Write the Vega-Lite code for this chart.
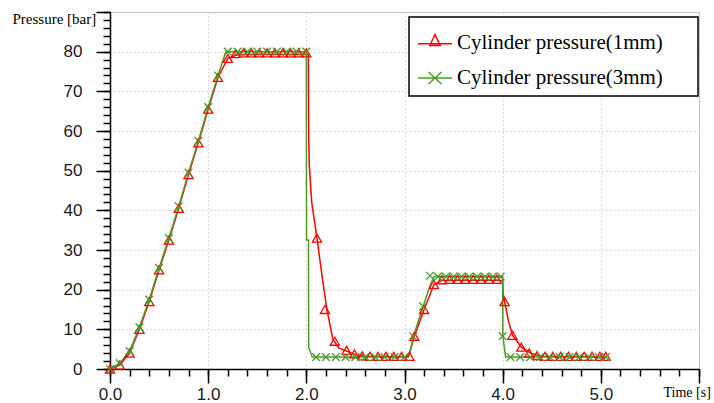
{
  "$schema": "https://vega.github.io/schema/vega-lite/v6.json",
  "width": 589,
  "height": 357,
  "autosize": {"type": "none"},
  "padding": {"left": 110, "top": 12, "right": 15, "bottom": 34},
  "background": "white",
  "config": {
    "view": {"stroke": "#c8c8c8", "strokeWidth": 1},
    "axis": {
      "labelFont": "Liberation Sans",
      "labelFontSize": 17,
      "labelColor": "#1a1a1a",
      "labelFlush": false,
      "labelOverlap": false,
      "tickColor": "black",
      "tickWidth": 1.5,
      "domainColor": "black",
      "domainWidth": 1.5,
      "titleFont": "Liberation Serif",
      "titleFontWeight": "normal",
      "titleColor": "black"
    }
  },
  "datasets": {
    "lines": [
      {"s": "Cylinder pressure(1mm)", "t": 0, "p": 0},
      {"s": "Cylinder pressure(1mm)", "t": 0.1, "p": 1},
      {"s": "Cylinder pressure(1mm)", "t": 0.2, "p": 4},
      {"s": "Cylinder pressure(1mm)", "t": 0.3, "p": 10},
      {"s": "Cylinder pressure(1mm)", "t": 0.4, "p": 17},
      {"s": "Cylinder pressure(1mm)", "t": 0.5, "p": 25},
      {"s": "Cylinder pressure(1mm)", "t": 0.6, "p": 32.5},
      {"s": "Cylinder pressure(1mm)", "t": 0.7, "p": 40.5},
      {"s": "Cylinder pressure(1mm)", "t": 0.8, "p": 49},
      {"s": "Cylinder pressure(1mm)", "t": 0.9, "p": 57},
      {"s": "Cylinder pressure(1mm)", "t": 1.0, "p": 65.5},
      {"s": "Cylinder pressure(1mm)", "t": 1.1, "p": 73.5},
      {"s": "Cylinder pressure(1mm)", "t": 1.2, "p": 78.3},
      {"s": "Cylinder pressure(1mm)", "t": 1.3, "p": 79.2},
      {"s": "Cylinder pressure(1mm)", "t": 1.4, "p": 79.3},
      {"s": "Cylinder pressure(1mm)", "t": 2.02, "p": 79.3},
      {"s": "Cylinder pressure(1mm)", "t": 2.024, "p": 58.6},
      {"s": "Cylinder pressure(1mm)", "t": 2.03, "p": 51.4},
      {"s": "Cylinder pressure(1mm)", "t": 2.055, "p": 42},
      {"s": "Cylinder pressure(1mm)", "t": 2.108, "p": 33},
      {"s": "Cylinder pressure(1mm)", "t": 2.17, "p": 21.7},
      {"s": "Cylinder pressure(1mm)", "t": 2.21, "p": 14.9},
      {"s": "Cylinder pressure(1mm)", "t": 2.27, "p": 7.5},
      {"s": "Cylinder pressure(1mm)", "t": 2.33, "p": 5.3},
      {"s": "Cylinder pressure(1mm)", "t": 2.41, "p": 4.5},
      {"s": "Cylinder pressure(1mm)", "t": 2.5, "p": 3.6},
      {"s": "Cylinder pressure(1mm)", "t": 2.6, "p": 3.2},
      {"s": "Cylinder pressure(1mm)", "t": 3.04, "p": 3.1},
      {"s": "Cylinder pressure(1mm)", "t": 3.1, "p": 8.2},
      {"s": "Cylinder pressure(1mm)", "t": 3.2, "p": 15},
      {"s": "Cylinder pressure(1mm)", "t": 3.3, "p": 21.3},
      {"s": "Cylinder pressure(1mm)", "t": 3.38, "p": 22.3},
      {"s": "Cylinder pressure(1mm)", "t": 4.0, "p": 22.3},
      {"s": "Cylinder pressure(1mm)", "t": 4.005, "p": 19},
      {"s": "Cylinder pressure(1mm)", "t": 4.02, "p": 17},
      {"s": "Cylinder pressure(1mm)", "t": 4.06, "p": 12},
      {"s": "Cylinder pressure(1mm)", "t": 4.1, "p": 8.5},
      {"s": "Cylinder pressure(1mm)", "t": 4.19, "p": 5.5},
      {"s": "Cylinder pressure(1mm)", "t": 4.3, "p": 3.8},
      {"s": "Cylinder pressure(1mm)", "t": 4.4, "p": 3.2},
      {"s": "Cylinder pressure(1mm)", "t": 5.05, "p": 3.1},
      {"s": "Cylinder pressure(3mm)", "t": 0, "p": 0},
      {"s": "Cylinder pressure(3mm)", "t": 0.1, "p": 1.5},
      {"s": "Cylinder pressure(3mm)", "t": 0.2, "p": 4.5},
      {"s": "Cylinder pressure(3mm)", "t": 0.3, "p": 10.5},
      {"s": "Cylinder pressure(3mm)", "t": 0.4, "p": 17.5},
      {"s": "Cylinder pressure(3mm)", "t": 0.5, "p": 25.5},
      {"s": "Cylinder pressure(3mm)", "t": 0.6, "p": 33},
      {"s": "Cylinder pressure(3mm)", "t": 0.7, "p": 41},
      {"s": "Cylinder pressure(3mm)", "t": 0.8, "p": 49.5},
      {"s": "Cylinder pressure(3mm)", "t": 0.9, "p": 57.5},
      {"s": "Cylinder pressure(3mm)", "t": 1.0, "p": 66},
      {"s": "Cylinder pressure(3mm)", "t": 1.1, "p": 74},
      {"s": "Cylinder pressure(3mm)", "t": 1.18, "p": 80},
      {"s": "Cylinder pressure(3mm)", "t": 2.0, "p": 80},
      {"s": "Cylinder pressure(3mm)", "t": 2.002, "p": 32.5},
      {"s": "Cylinder pressure(3mm)", "t": 2.022, "p": 32.5},
      {"s": "Cylinder pressure(3mm)", "t": 2.024, "p": 5.5},
      {"s": "Cylinder pressure(3mm)", "t": 2.06, "p": 3},
      {"s": "Cylinder pressure(3mm)", "t": 3.0, "p": 3},
      {"s": "Cylinder pressure(3mm)", "t": 3.05, "p": 3.6},
      {"s": "Cylinder pressure(3mm)", "t": 3.09, "p": 8.2},
      {"s": "Cylinder pressure(3mm)", "t": 3.19, "p": 15.8},
      {"s": "Cylinder pressure(3mm)", "t": 3.26, "p": 21},
      {"s": "Cylinder pressure(3mm)", "t": 3.3, "p": 23.3},
      {"s": "Cylinder pressure(3mm)", "t": 4.0, "p": 23.3},
      {"s": "Cylinder pressure(3mm)", "t": 4.002, "p": 8.3},
      {"s": "Cylinder pressure(3mm)", "t": 4.03, "p": 3},
      {"s": "Cylinder pressure(3mm)", "t": 5.05, "p": 3}
    ],
    "markers1": [
      {"t": 0, "p": 0}, {"t": 0.1, "p": 1}, {"t": 0.2, "p": 4}, {"t": 0.3, "p": 10},
      {"t": 0.4, "p": 17}, {"t": 0.5, "p": 25}, {"t": 0.6, "p": 32.5}, {"t": 0.7, "p": 40.5},
      {"t": 0.8, "p": 49}, {"t": 0.9, "p": 57}, {"t": 1.0, "p": 65.5}, {"t": 1.1, "p": 73.5},
      {"t": 1.2, "p": 78.3}, {"t": 1.28, "p": 79.5}, {"t": 1.36, "p": 79.7}, {"t": 1.44, "p": 79.7},
      {"t": 1.52, "p": 79.7}, {"t": 1.6, "p": 79.7}, {"t": 1.68, "p": 79.7}, {"t": 1.76, "p": 79.7},
      {"t": 1.84, "p": 79.7}, {"t": 1.92, "p": 79.7}, {"t": 2.0, "p": 79.7}, {"t": 2.108, "p": 33},
      {"t": 2.19, "p": 15}, {"t": 2.29, "p": 7}, {"t": 2.41, "p": 4.7}, {"t": 2.49, "p": 3.8},
      {"t": 2.57, "p": 3.3}, {"t": 2.65, "p": 3.2}, {"t": 2.73, "p": 3.2}, {"t": 2.81, "p": 3.2},
      {"t": 2.89, "p": 3.2}, {"t": 2.97, "p": 3.2}, {"t": 3.05, "p": 3.2}, {"t": 3.1, "p": 8.2},
      {"t": 3.2, "p": 15}, {"t": 3.3, "p": 21.3}, {"t": 3.38, "p": 22.5}, {"t": 3.46, "p": 22.6},
      {"t": 3.54, "p": 22.6}, {"t": 3.62, "p": 22.6}, {"t": 3.7, "p": 22.6}, {"t": 3.78, "p": 22.6},
      {"t": 3.86, "p": 22.6}, {"t": 3.94, "p": 22.6}, {"t": 4.02, "p": 17}, {"t": 4.1, "p": 8.5},
      {"t": 4.19, "p": 5.5}, {"t": 4.27, "p": 4}, {"t": 4.35, "p": 3.4}, {"t": 4.43, "p": 3.2},
      {"t": 4.51, "p": 3.2}, {"t": 4.59, "p": 3.2}, {"t": 4.67, "p": 3.2}, {"t": 4.75, "p": 3.2},
      {"t": 4.83, "p": 3.2}, {"t": 4.91, "p": 3.2}, {"t": 4.99, "p": 3.2}, {"t": 5.05, "p": 3.2}
    ],
    "markers3": [
      {"t": 0, "p": 0}, {"t": 0.1, "p": 1.5}, {"t": 0.2, "p": 4.5}, {"t": 0.3, "p": 10.5},
      {"t": 0.4, "p": 17.5}, {"t": 0.5, "p": 25.5}, {"t": 0.6, "p": 33}, {"t": 0.7, "p": 41},
      {"t": 0.8, "p": 49.5}, {"t": 0.9, "p": 57.5}, {"t": 1.0, "p": 66}, {"t": 1.1, "p": 74},
      {"t": 1.2, "p": 80}, {"t": 1.3, "p": 80}, {"t": 1.4, "p": 80}, {"t": 1.5, "p": 80},
      {"t": 1.6, "p": 80}, {"t": 1.7, "p": 80}, {"t": 1.8, "p": 80}, {"t": 1.9, "p": 80},
      {"t": 2.0, "p": 80}, {"t": 2.1, "p": 3}, {"t": 2.2, "p": 3}, {"t": 2.3, "p": 3},
      {"t": 2.4, "p": 3}, {"t": 2.5, "p": 3}, {"t": 2.6, "p": 3}, {"t": 2.7, "p": 3},
      {"t": 2.8, "p": 3}, {"t": 2.9, "p": 3}, {"t": 3.0, "p": 3}, {"t": 3.09, "p": 8.2},
      {"t": 3.19, "p": 15.8}, {"t": 3.26, "p": 23.5}, {"t": 3.34, "p": 23.3}, {"t": 3.42, "p": 23.3},
      {"t": 3.5, "p": 23.3}, {"t": 3.58, "p": 23.3}, {"t": 3.66, "p": 23.3}, {"t": 3.74, "p": 23.3},
      {"t": 3.82, "p": 23.3}, {"t": 3.9, "p": 23.3}, {"t": 3.98, "p": 23.3}, {"t": 4.0, "p": 8.3},
      {"t": 4.08, "p": 3}, {"t": 4.18, "p": 3}, {"t": 4.28, "p": 3}, {"t": 4.38, "p": 3},
      {"t": 4.48, "p": 3}, {"t": 4.58, "p": 3}, {"t": 4.68, "p": 3}, {"t": 4.78, "p": 3},
      {"t": 4.88, "p": 3}, {"t": 4.98, "p": 3}, {"t": 5.05, "p": 3}
    ]
  },
  "layer": [
    {
      "data": {"name": "lines"},
      "mark": {"type": "line", "strokeWidth": 1.5},
      "encoding": {
        "x": {
          "field": "t", "type": "quantitative",
          "scale": {"domain": [0, 6], "nice": false, "zero": false},
          "axis": {
            "orient": "bottom",
            "values": [0, 1, 2, 3, 4, 5, 6],
            "labelExpr": "datum.value >= 6 ? '' : format(datum.value, '.1f')",
            "tickSize": 14,
            "labelPadding": 3,
            "grid": true,
            "gridDash": [1, 3],
            "gridColor": "#b4b4b4",
            "gridWidth": 1,
            "title": "Time [s]",
            "titleFontSize": 14,
            "titleX": 553,
            "titleY": 23,
            "titleAlign": "left",
            "titleBaseline": "middle",
            "titleAnchor": null
          }
        },
        "y": {
          "field": "p", "type": "quantitative",
          "scale": {"domain": [0, 90], "nice": false},
          "axis": {
            "orient": "left",
            "values": [0, 10, 20, 30, 40, 50, 60, 70, 80, 90],
            "labelExpr": "datum.value >= 90 ? '' : datum.label",
            "tickSize": 14,
            "labelPadding": 14,
            "grid": true,
            "gridDash": [1, 3],
            "gridColor": "#b4b4b4",
            "gridWidth": 1,
            "title": "Pressure [bar]",
            "titleFontSize": 15,
            "titleAngle": 0,
            "titleX": -98,
            "titleY": 6,
            "titleAlign": "left",
            "titleBaseline": "middle",
            "titleAnchor": null
          }
        },
        "color": {
          "field": "s", "type": "nominal",
          "scale": {"domain": ["Cylinder pressure(1mm)", "Cylinder pressure(3mm)"], "range": ["#ff0000", "#4c9a2a"]},
          "legend": {
            "orient": "none",
            "legendX": 299,
            "legendY": 5,
            "title": null,
            "padding": 8,
            "fillColor": "white",
            "strokeColor": "black",
            "symbolType": "stroke",
            "symbolSize": 1156,
            "symbolStrokeWidth": 1.5,
            "labelOffset": 4,
            "rowPadding": 7,
            "labelFont": "Liberation Serif",
            "labelFontSize": 21,
            "labelColor": "black",
            "labelLimit": 600,
            "labelExpr": "datum.label + '\u00a0\u00a0\u00a0\u00a0\u00a0\u200b'",
            "encode": {
              "legend": {"update": {"strokeWidth": {"value": 1.5}}},
              "symbols": {"update": {
                "shape": {"signal": "datum.value === 'Cylinder pressure(1mm)' ? 'M-1,0.05H1M-0.3,0.15L0,-0.5L0.3,0.15Z' : 'M-1,0H1M-0.38,-0.35L0.38,0.35M-0.38,0.35L0.38,-0.35'"},
                "size": {"value": 1156},
                "strokeWidth": {"value": 1.5},
                "fill": {"value": "transparent"},
                "opacity": {"value": 1}
              }}
            }
          }
        }
      }
    },
    {
      "data": {"name": "markers1"},
      "mark": {"type": "point", "shape": "triangle-up", "filled": false, "color": "#ff0000", "size": 85, "strokeWidth": 1.3, "opacity": 1},
      "encoding": {
        "x": {
          "field": "t", "type": "quantitative",
          "axis": {
            "orient": "bottom",
            "values": [0, 0.2, 0.4, 0.6, 0.8, 1, 1.2, 1.4, 1.6, 1.8, 2, 2.2, 2.4, 2.6, 2.8, 3, 3.2, 3.4, 3.6, 3.8, 4, 4.2, 4.4, 4.6, 4.8, 5, 5.2, 5.4, 5.6, 5.8, 6],
            "labels": false, "tickSize": 7, "grid": false, "domain": false, "title": null
          }
        },
        "y": {
          "field": "p", "type": "quantitative",
          "axis": {
            "orient": "left",
            "values": [0, 2, 4, 6, 8, 10, 12, 14, 16, 18, 20, 22, 24, 26, 28, 30, 32, 34, 36, 38, 40, 42, 44, 46, 48, 50, 52, 54, 56, 58, 60, 62, 64, 66, 68, 70, 72, 74, 76, 78, 80, 82, 84, 86, 88, 90],
            "labels": false, "tickSize": 7, "grid": false, "domain": false, "title": null
          }
        }
      }
    },
    {
      "data": {"name": "markers3"},
      "mark": {"type": "point", "shape": "M-1,-1L1,1M-1,1L1,-1", "filled": false, "color": "#4c9a2a", "size": 60, "strokeWidth": 1.3, "opacity": 1},
      "encoding": {
        "x": {"field": "t", "type": "quantitative", "axis": null},
        "y": {"field": "p", "type": "quantitative", "axis": null}
      }
    }
  ],
  "resolve": {"axis": {"x": "independent", "y": "independent"}}
}
